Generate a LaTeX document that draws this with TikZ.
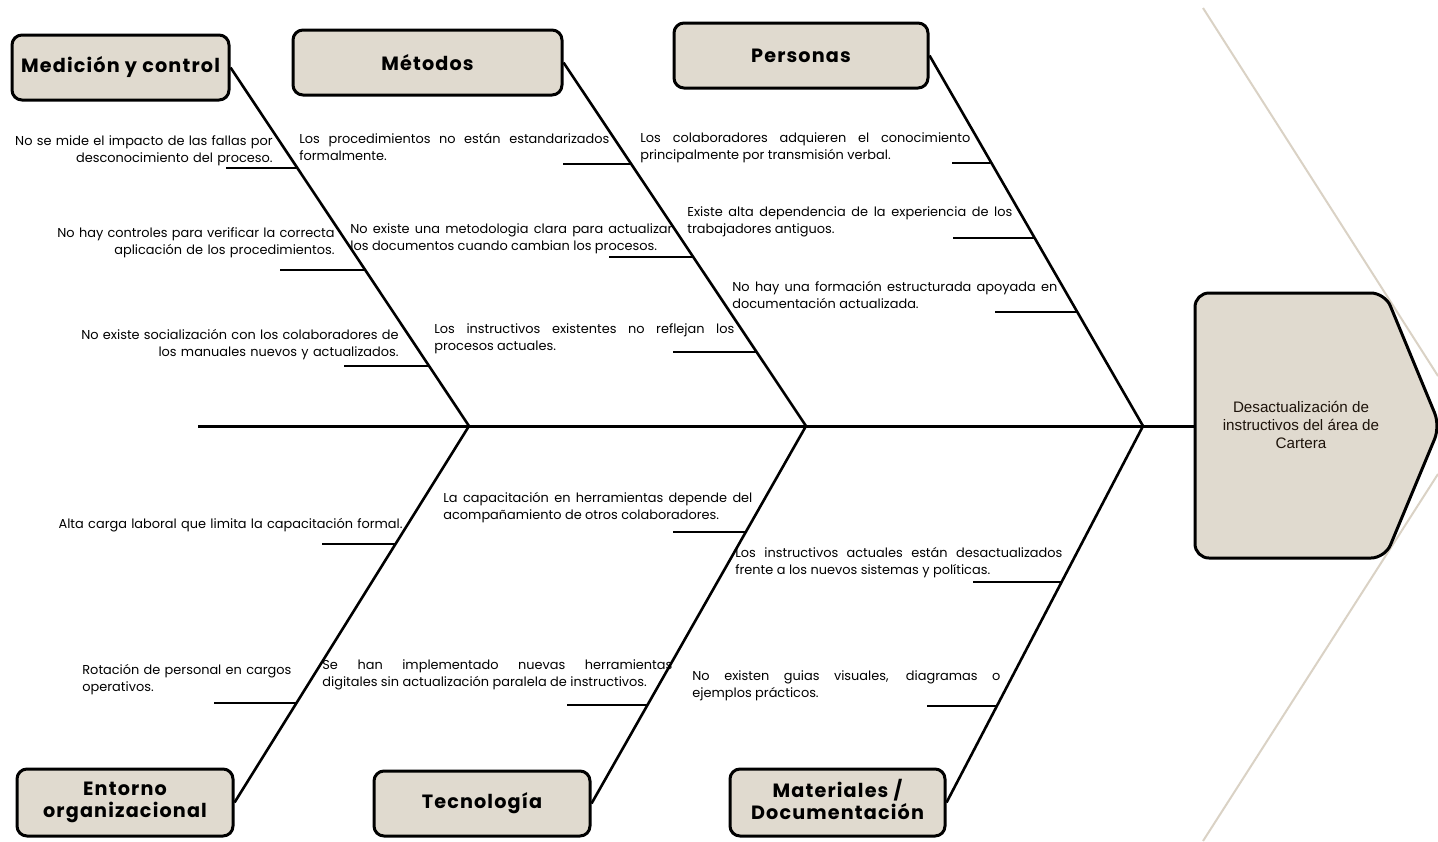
\documentclass[tikz,border=0pt]{standalone}
\usepackage{fontspec}
\setmainfont{Poppins}
\newfontfamily\headfont{Poppins}[LetterSpace=6]
\newfontfamily\effectfont{Liberation Sans}
\definecolor{boxfill}{HTML}{E0DACF}
\definecolor{chevron}{HTML}{DAD2C5}
\newcommand{\causefont}{\fontsize{6.45}{8.75}\selectfont}

\begin{document}
\begin{tikzpicture}[x=0.5pt,y=-0.5pt]
						\tikzstyle{category}=[rectangle,rounded corners=5pt,draw=black,line width=1.5pt,fill=boxfill,inner sep=0pt,align=center,font=\headfont\bfseries\fontsize{9.6}{11}\selectfont]
						\tikzstyle{cause}=[inner sep=0pt,font=\causefont]
						\tikzstyle{bone}=[line width=1.3pt]
						\tikzstyle{rib}=[line width=1.3pt]
						\useasboundingbox (0,0) rectangle (1438,841);
						% background chevron
						\draw[chevron,line width=1pt] (1203,8) -- (1438,376);
						\draw[chevron,line width=1pt] (1203,841) -- (1438,474);
						% head
						\draw[line width=1.5pt,fill=boxfill,rounded corners=7pt] (1195,293) -- (1385,293) -- (1440,426) -- (1385,558) -- (1195,558) -- cycle;
						\node[align=center,inner sep=0pt,font=\effectfont\fontsize{7.6}{9}\selectfont,text=black!85!brown] (head) at (1301,425) {Desactualización de\\instructivos del área de\\Cartera};
						\coordinate (headw) at (1195,426);
						\coordinate (tail) at (198,426);
						\coordinate (j1) at (469,426);
						\coordinate (j2) at (806,426);
						\coordinate (j3) at (1143,426);
						% categories
						\node[category,minimum width=108.5pt,minimum height=32.5pt] (medicion) at (120.5,67.5) {Medición y control};
						\node[category,minimum width=134.5pt,minimum height=32.5pt] (metodos) at (427.5,62.5) {Métodos};
						\node[category,minimum width=127pt,minimum height=32.5pt] (personas) at (801,55.5) {Personas};
						\node[category,minimum width=108pt,minimum height=33.5pt] (entorno) at (125,802.5) {Entorno\\organizacional};
						\node[category,minimum width=108pt,minimum height=32.5pt] (tecnologia) at (482,803.5) {Tecnología};
						\node[category,minimum width=107.5pt,minimum height=33.5pt] (materiales) at (837.5,802.5) {Materiales /\\Documentación\vphantom{g}};
						% spine and bones
						\draw[line width=1.5pt] (tail) -- (headw);
						\draw[bone] (medicion.east) -- (j1);
						\draw[bone] (metodos.east) -- (j2);
						\draw[bone] (personas.east) -- (j3);
						\draw[bone] (entorno.east) -- (j1);
						\draw[bone] (tecnologia.east) -- (j2);
						\draw[bone] (materiales.east) -- (j3);
						% ribs
						\path (medicion.east) -- (j1) coordinate[pos=0.279] (m1) coordinate[pos=0.564] (m2) coordinate[pos=0.832] (m3);
						\path (metodos.east) -- (j2) coordinate[pos=0.276] (d1) coordinate[pos=0.533] (d2) coordinate[pos=0.796] (d3);
						\path (personas.east) -- (j3) coordinate[pos=0.285] (p1) coordinate[pos=0.489] (p2) coordinate[pos=0.690] (p3);
						\path (j1) -- (entorno.east) coordinate[pos=0.314] (e1) coordinate[pos=0.737] (e2);
						\path (j2) -- (tecnologia.east) coordinate[pos=0.281] (t1) coordinate[pos=0.740] (t2);
						\path (j3) -- (materiales.east) coordinate[pos=0.415] (a1) coordinate[pos=0.745] (a2);
						\coordinate (m1e) at (226,168);
						\coordinate (m2e) at (280,270);
						\coordinate (m3e) at (344,366);
						\coordinate (d1e) at (563,164);
						\coordinate (d2e) at (609,257);
						\coordinate (d3e) at (673,352);
						\coordinate (p1e) at (952,163);
						\coordinate (p2e) at (953,238);
						\coordinate (p3e) at (995,312);
						\coordinate (e1e) at (322,544);
						\coordinate (e2e) at (214,703);
						\coordinate (t1e) at (673,532);
						\coordinate (t2e) at (567,705);
						\coordinate (a1e) at (973,582);
						\coordinate (a2e) at (927,706);
						\draw[rib] (m1e) -- (m1e -| m1);
						\draw[rib] (m2e) -- (m2e -| m2);
						\draw[rib] (m3e) -- (m3e -| m3);
						\draw[rib] (d1e) -- (d1e -| d1);
						\draw[rib] (d2e) -- (d2e -| d2);
						\draw[rib] (d3e) -- (d3e -| d3);
						\draw[rib] (p1e) -- (p1e -| p1);
						\draw[rib] (p2e) -- (p2e -| p2);
						\draw[rib] (p3e) -- (p3e -| p3);
						\draw[rib] (e1e) -- (e1e -| e1);
						\draw[rib] (e2e) -- (e2e -| e2);
						\draw[rib] (t1e) -- (t1e -| t1);
						\draw[rib] (t2e) -- (t2e -| t2);
						\draw[rib] (a1e) -- (a1e -| a1);
						\draw[rib] (a2e) -- (a2e -| a2);
						% causes
						\node[cause,anchor=base east,text width=135pt,align=right] (c11) at (273,145) {No se mide el impacto de las fallas por\\desconocimiento del proceso.};
						\node[cause,anchor=base east,text width=150pt,align=right] (c12) at (335,237) {No hay controles para verificar la correcta\\aplicación de los procedimientos.};
						\node[cause,anchor=base east,text width=170pt,align=right] (c13) at (399,339) {No existe socialización con los colaboradores de\\los manuales nuevos y actualizados.};
						\node[cause,anchor=base west,text width=155pt,align=justify] (c21) at (299,143) {Los procedimientos no están estandarizados\linebreak formalmente.};
						\node[cause,anchor=base west,text width=161pt,align=justify] (c22) at (350,233) {No existe una metodologia clara para actualizar\linebreak los documentos cuando cambian los procesos.};
						\node[cause,anchor=base west,text width=150pt,align=justify] (c23) at (434,333) {Los instructivos existentes no reflejan los\linebreak procesos actuales.};
						\node[cause,anchor=base west,text width=165pt,align=justify] (c31) at (640,142) {Los colaboradores adquieren el conocimiento\linebreak principalmente por transmisión verbal.};
						\node[cause,anchor=base west,text width=162.5pt,align=justify] (c32) at (687,216) {Existe alta dependencia de la experiencia de los\linebreak trabajadores antiguos.};
						\node[cause,anchor=base west,text width=162.5pt,align=justify] (c33) at (732,291) {No hay una formación estructurada apoyada en\linebreak documentación actualizada.};
						\node[cause,anchor=base east,text width=175pt,align=right] (c41) at (403,528) {Alta carga laboral que limita la capacitación formal.};
						\node[cause,anchor=base west,text width=110pt,align=left] (c42) at (82,674) {Rotación de personal en cargos\\operativos.};
						\node[cause,anchor=base west,text width=154.5pt,align=justify] (c51) at (443,502) {La capacitación en herramientas depende del\linebreak acompañamiento de otros colaboradores.};
						\node[cause,anchor=base west,text width=175pt,align=justify] (c52) at (322,669) {Se han implementado nuevas herramientas\linebreak digitales sin actualización paralela de instructivos.};
						\node[cause,anchor=base west,text width=163.5pt,align=justify] (c61) at (735,557) {Los instructivos actuales están desactualizados\linebreak frente a los nuevos sistemas y políticas.};
						\node[cause,anchor=base west,text width=154pt,align=justify] (c62) at (692,680) {No existen guias visuales, diagramas o\linebreak ejemplos prácticos.};
						\end{tikzpicture}
\end{document}
